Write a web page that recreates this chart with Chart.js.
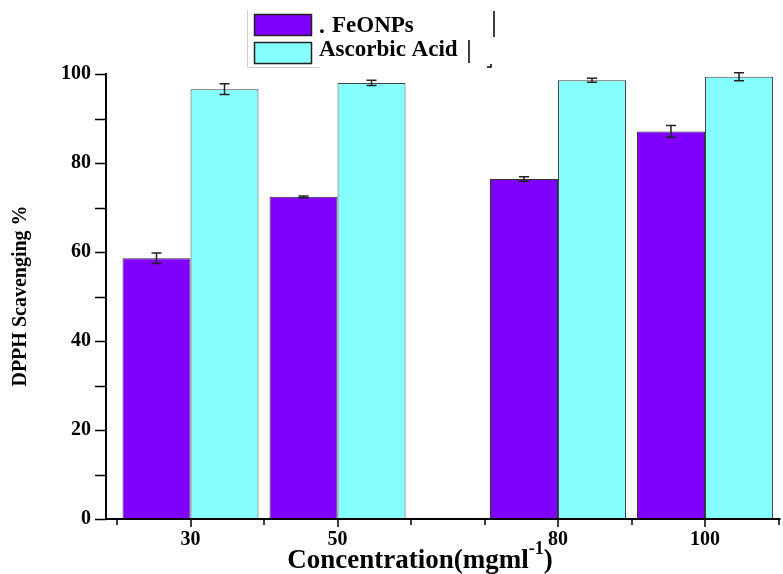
<!DOCTYPE html>
<html>
<head>
<meta charset="utf-8">
<script src="https://cdn.jsdelivr.net/npm/chart.js@4.4.1/dist/chart.umd.min.js"></script>
<style>
  html, body { margin: 0; padding: 0; background: #ffffff; }
  #wrap { position: relative; width: 783px; height: 574px; }
  canvas { display: block; }
</style>
</head>
<body>
<div id="wrap"><canvas id="c" width="783" height="574"></canvas></div>
<script>
// ---- data ----
const concentrations = [30, 50, 80, 100];
const feonps = [58.6, 72.4, 76.4, 87.1];
const feonpsErr = [1.2, 0.2, 0.5, 1.3];
const ascorbic = [96.6, 98.0, 98.6, 99.4];
const ascorbicErr = [1.2, 0.6, 0.45, 0.9];
const seriesNames = ['FeONPs', 'Ascorbic Acid'];
const xTickValues = [20, 30, 40, 50, 60, 70, 80, 90, 100, 110];
const xLabeled = [30, 50, 80, 100];
const yTickValues = [0, 20, 40, 60, 80, 100];
const yMinorValues = [10, 30, 50, 70, 90];
const xTitle = 'Concentration(mgml';
const xTitleSup = '-1';
const yTitle = 'DPPH Scavenging %';

const PURPLE = '#7f00ff';
const CYAN = '#85ffff';
const SERIF = '"Liberation Serif", "Times New Roman", serif';

const errors = [feonpsErr, ascorbicErr];

const customDraw = {
  id: 'customDraw',
  afterDatasetsDraw(chart) {
    const ctx = chart.ctx;
    const ys = chart.scales.y;
    chart.data.datasets.forEach((ds, i) => {
      const meta = chart.getDatasetMeta(i);
      meta.data.forEach((el, j) => {
        const v = ds.data[j].y;
        const e = errors[i][j];
        const yt = ys.getPixelForValue(v + e);
        const yb = ys.getPixelForValue(v - e);
        ctx.save();
        ctx.strokeStyle = '#222';
        ctx.lineWidth = 1.5;
        ctx.beginPath();
        ctx.moveTo(el.x, yt); ctx.lineTo(el.x, yb);
        ctx.moveTo(el.x - 5, yt); ctx.lineTo(el.x + 5, yt);
        ctx.moveTo(el.x - 5, yb); ctx.lineTo(el.x + 5, yb);
        ctx.stroke();
        ctx.restore();
      });
    });
  },
  afterDraw(chart) {
    const ctx = chart.ctx;
    const xs = chart.scales.x, ys = chart.scales.y;
    const area = chart.chartArea;
    ctx.save();
    ctx.strokeStyle = '#000';
    ctx.lineWidth = 2;
    ctx.beginPath();
    ctx.moveTo(area.left, area.top - 1);
    ctx.lineTo(area.left, area.bottom);
    ctx.lineTo(area.right + 2, area.bottom);
    ctx.stroke();
    ctx.lineWidth = 1.5;
    ctx.beginPath();
    yTickValues.concat(yMinorValues).forEach(v => {
      const y = Math.round(ys.getPixelForValue(v)) + 0.5;
      ctx.moveTo(area.left - 11, y); ctx.lineTo(area.left, y);
    });
    xTickValues.forEach(v => {
      const x = Math.round(xs.getPixelForValue(v));
      const len = xLabeled.includes(v) ? 8 : 6;
      ctx.moveTo(x, area.bottom); ctx.lineTo(x, area.bottom + len);
    });
    ctx.stroke();

    // y title
    ctx.fillStyle = '#000';
    ctx.font = 'bold 20px ' + SERIF;
    ctx.save();
    ctx.translate(21, 296);
    ctx.rotate(-Math.PI / 2);
    ctx.textAlign = 'center';
    ctx.textBaseline = 'middle';
    ctx.fillText(yTitle, 0, 0);
    ctx.restore();

    // x title with superscript
    const big = 'bold 27px ' + SERIF, small = 'bold 18px ' + SERIF;
    ctx.textBaseline = 'alphabetic';
    ctx.textAlign = 'left';
    ctx.font = big;
    const w1 = ctx.measureText(xTitle).width;
    const w3 = ctx.measureText(')').width;
    ctx.font = small;
    const w2 = ctx.measureText(xTitleSup).width;
    const total = w1 + w2 + w3;
    const x0 = 420 - total / 2;
    const base = 568;
    ctx.font = big;
    ctx.fillText(xTitle, x0, base);
    ctx.font = small;
    ctx.fillText(xTitleSup, x0 + w1, base - 14);
    ctx.font = big;
    ctx.fillText(')', x0 + w1 + w2, base);

    // legend
    ctx.strokeStyle = '#cfcfcf';
    ctx.lineWidth = 1;
    ctx.beginPath();
    ctx.moveTo(247.5, 10); ctx.lineTo(247.5, 67.5); ctx.lineTo(320, 67.5);
    ctx.stroke();
    const sw = [[254, 14], [254, 42]];
    const colors = [PURPLE, CYAN];
    sw.forEach((p, i) => {
      ctx.fillStyle = colors[i];
      ctx.fillRect(p[0], p[1], 58, 22);
      ctx.strokeStyle = '#222';
      ctx.lineWidth = 1.5;
      ctx.strokeRect(p[0] + 0.5, p[1] + 0.5, 57, 21);
    });
    ctx.fillStyle = '#000';
    ctx.font = 'bold 23px ' + SERIF;
    ctx.textBaseline = 'middle';
    ctx.fillText('.', 319, 27);
    ctx.fillText(seriesNames[0], 332, 26);
    ctx.fillText(seriesNames[1], 319, 50);
    ctx.strokeStyle = '#000';
    ctx.lineWidth = 1.5;
    ctx.beginPath();
    ctx.moveTo(494, 11); ctx.lineTo(494, 37);
    ctx.moveTo(469, 40); ctx.lineTo(469, 63);
    ctx.moveTo(487, 67); ctx.lineTo(491, 67); ctx.lineTo(491, 64);
    ctx.stroke();
    ctx.restore();
  }
};

const toPoints = (vals) => vals.map((v, i) => ({ x: concentrations[i], y: v }));

new Chart(document.getElementById('c'), {
  type: 'bar',
  data: {
    datasets: [
      { label: seriesNames[0], data: toPoints(feonps), backgroundColor: PURPLE, borderColor: '#333', borderWidth: 1 },
      { label: seriesNames[1], data: toPoints(ascorbic), backgroundColor: CYAN, borderColor: '#444', borderWidth: 1 }
    ]
  },
  options: {
    responsive: false,
    animation: false,
    devicePixelRatio: 1,
    layout: { padding: { left: 0, right: 4.5, top: 74, bottom: 0 } },
    datasets: { bar: { barPercentage: 1, categoryPercentage: 1.85 } },
    plugins: { legend: { display: false }, tooltip: { enabled: false } },
    scales: {
      x: {
        type: 'linear', min: 18.5, max: 110, offset: false,
        afterBuildTicks: (s) => { s.ticks = xTickValues.map(v => ({ value: v })); },
        afterFit: (s) => { s.height = 55; },
        grid: { display: false },
        border: { display: false },
        ticks: {
          autoSkip: false, maxRotation: 0, padding: 1, color: '#000',
          font: { family: SERIF, size: 20, weight: 'bold' },
          callback: (v) => xLabeled.includes(v) ? String(v) : ''
        }
      },
      y: {
        min: 0, max: 100,
        afterBuildTicks: (s) => { s.ticks = yTickValues.map(v => ({ value: v })); },
        afterFit: (s) => { s.width = 106; },
        grid: { display: false },
        border: { display: false },
        ticks: {
          padding: 7, color: '#000',
          font: { family: SERIF, size: 20, weight: 'bold' }
        }
      }
    }
  },
  plugins: [customDraw]
});
</script>
</body>
</html>
